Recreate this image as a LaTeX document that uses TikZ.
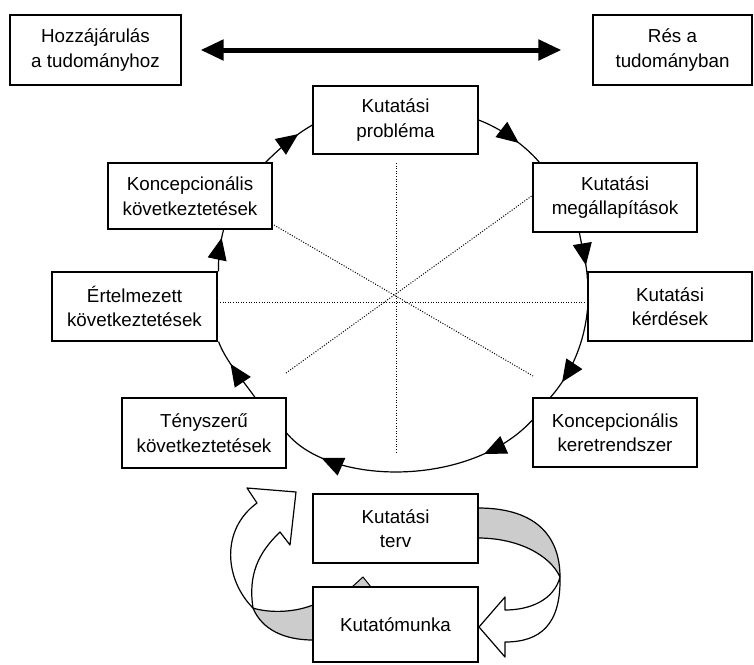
\documentclass[tikz,border=0pt]{standalone}
\usepackage{fontspec}
\setmainfont{Liberation Sans}
\usetikzlibrary{arrows.meta,decorations.markings,calc}
\begin{document}
\begin{tikzpicture}[x=1pt,y=-1pt,
  box/.style={draw, line width=1.2pt, fill=white, align=center, inner sep=0pt,
    font=\fontsize{18.8}{24.5}\selectfont},
  conn/.style={line width=1.2pt},
  mk/.style={postaction={decorate, decoration={markings,
    mark=at position #1 with {\arrow{Triangle[length=22pt,width=19pt]}}}}},
  spoke/.style={line width=1pt, dash pattern=on 1pt off 1.6pt},
  rib/.style={line width=1.2pt, line join=round},
]
\useasboundingbox (0,0) rectangle (754,664);
\fill[white] (0,0) rectangle (754,664);

% dotted spokes
\draw[spoke] (396,163) -- (396,452);
\draw[spoke] (220,302) -- (588,302);
\draw[spoke] (274,225) -- (533,376);
\draw[spoke] (286,373) -- (533,195);

% ribbons
\filldraw[rib, fill=black!20] (478,508) .. controls (540,508) and (560,540) .. (560,577)
  .. controls (550,555) and (518,538) .. (478,538) -- cycle;
\filldraw[rib, fill=white] (560,577) .. controls (561,625) and (540,642) .. (505,642)
  -- (505,657) -- (479,627) -- (505,597) -- (505,610)
  .. controls (530,610) and (554,600) .. (560,577) -- cycle;
\filldraw[rib, fill=black!20] (313,605) .. controls (290,614) and (265,612) .. (253,608)
  .. controls (262,630) and (285,640) .. (313,640) -- cycle;
\filldraw[rib, fill=white] (253,608) .. controls (225,580) and (220,530) .. (257,503)
  -- (247,488) -- (296,492) -- (290,545) -- (280,532)
  .. controls (258,553) and (248,575) .. (253,608) -- cycle;
\filldraw[line width=1pt, fill=black!20] (352,587) -- (363,577) -- (371,587) -- cycle;

% boxes
\node[box, minimum width=171pt, minimum height=70pt] (hoz) at (95.5,50) {Hozzájárulás\\a tudományhoz};
\node[box, minimum width=159pt, minimum height=70pt] (res) at (672.5,50) {Rés a\\tudományban};
\node[box, minimum width=165pt, minimum height=68pt] (prob) at (395.5,120) {Kutatási\\probléma};
\node[box, minimum width=164pt, minimum height=69pt] (meg) at (615,197.5) {Kutatási\\megállapítások};
\node[box, minimum width=164pt, minimum height=69pt] (ker) at (670,306.5) {Kutatási\\kérdések};
\node[box, minimum width=164pt, minimum height=69pt] (keret) at (615,432.5) {Koncepcionális\\keretrendszer};
\node[box, minimum width=164pt, minimum height=70pt] (teny) at (204,433) {Tényszerű\\következtetések};
\node[box, minimum width=165pt, minimum height=69pt] (ert) at (134.5,306.5) {Értelmezett\\következtetések};
\node[box, minimum width=164pt, minimum height=66pt] (konk) at (190,196) {Koncepcionális\\következtetések};
\node[box, minimum width=165pt, minimum height=69pt] (terv) at (395.5,528.5) {Kutatási\\terv};
\node[box, minimum width=165pt, minimum height=75pt] (munka) at (395.5,624.5) {Kutatómunka};

% top double arrow
\draw[line width=5pt, {Triangle[length=23pt,width=20pt]}-{Triangle[length=23pt,width=20pt]},
  shorten <=19pt, shorten >=31pt] (hoz) -- (res);

% cycle connectors
\draw[conn, mk=0.62] (prob.east) .. controls (500,128) and (525,145) .. ($(meg.north west)+(7,0)$);
\draw[conn, mk=0.7] ($(meg.south west)+(47,0)$) .. controls (582,248) and (587,265) .. ($(ker.north west)+(0,8)$);
\draw[conn, mk=0.8] ($(ker.west)+(0,3.5)$) .. controls (584,345) and (570,375) .. ($(keret.north west)+(18,0)$);
\draw[conn, mk=0.22, mk=0.84] ($(keret.west)+(0,-12.5)$) .. controls (470,488) and (330,486) .. (teny.east);
\draw[conn, mk=0.62] ($(teny.north)+(51,0)$) .. controls (245,383) and (225,360) .. ($(ert.south east)+(1,0)$);
\draw[conn, mk=0.8] ($(ert.north east)+(1,0)$) .. controls (218,258) and (220,243) .. ($(konk.south east)+(-49,0)$);
\draw[conn, mk=0.72] ($(konk.north east)+(-7,0)$) .. controls (280,148) and (295,135) .. ($(prob.west)+(0,5)$);
\end{tikzpicture}
\end{document}
